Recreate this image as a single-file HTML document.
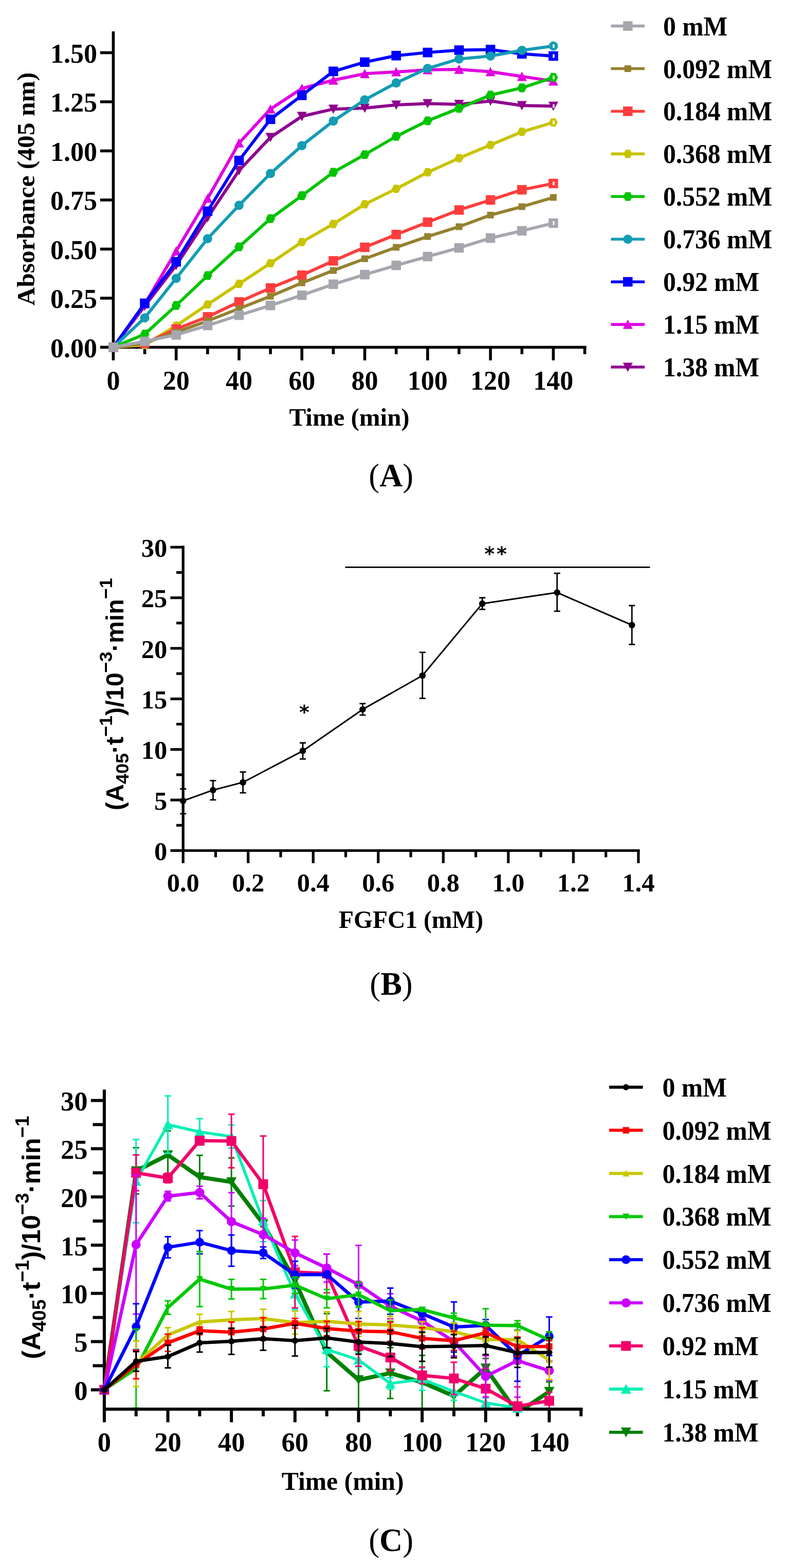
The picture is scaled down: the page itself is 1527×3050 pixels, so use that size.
<!DOCTYPE html>
<html><head><meta charset="utf-8"><title>Figure</title>
<style>html,body{margin:0;padding:0;background:#fff;}svg{display:block;}</style>
</head><body>
<svg width="1527" height="3050" viewBox="0 0 1527 3050">
<rect width="1527" height="3050" fill="#fff"/>
<g stroke="#000" stroke-width="5.6" fill="none">
<path d="M220.4 61 V701 M217.6 675.5 H1140.6"/>
<path d="M281.54 675.5 V689"/>
<path d="M342.68 675.5 V701"/>
<path d="M403.82 675.5 V689"/>
<path d="M464.96 675.5 V701"/>
<path d="M526.1 675.5 V689"/>
<path d="M587.24 675.5 V701"/>
<path d="M648.38 675.5 V689"/>
<path d="M709.52 675.5 V701"/>
<path d="M770.66 675.5 V689"/>
<path d="M831.8 675.5 V701"/>
<path d="M892.94 675.5 V689"/>
<path d="M954.08 675.5 V701"/>
<path d="M1015.22 675.5 V689"/>
<path d="M1076.36 675.5 V701"/>
<path d="M1137.5 675.5 V689"/>
<path d="M194.8 675.5 H220.4"/>
<path d="M194.8 580 H220.4"/>
<path d="M194.8 484.5 H220.4"/>
<path d="M194.8 389 H220.4"/>
<path d="M194.8 293.5 H220.4"/>
<path d="M194.8 198 H220.4"/>
<path d="M194.8 102.5 H220.4"/>
</g>
<polyline points="220.4,675.5 281.54,595.28 342.68,516.21 403.82,423.38 464.96,331.7 526.1,267.14 587.24,226.27 648.38,212.13 709.52,210.22 770.66,204.11 831.8,201.44 892.94,202.97 954.08,196.47 1015.22,205.26 1076.36,206.4" fill="none" stroke="#8E008E" stroke-width="6" stroke-linejoin="round"/>
<polygon points="220.4,684.89 229.9,666.84 210.9,666.84" fill="#8E008E"/>
<polygon points="281.54,604.67 291.04,586.62 272.04,586.62" fill="#8E008E"/>
<polygon points="342.68,525.59 352.18,507.54 333.18,507.54" fill="#8E008E"/>
<polygon points="403.82,432.77 413.32,414.72 394.32,414.72" fill="#8E008E"/>
<polygon points="464.96,341.09 474.46,323.04 455.46,323.04" fill="#8E008E"/>
<polygon points="526.1,276.53 535.6,258.48 516.6,258.48" fill="#8E008E"/>
<polygon points="587.24,235.65 596.74,217.6 577.74,217.6" fill="#8E008E"/>
<polygon points="648.38,221.52 657.88,203.47 638.88,203.47" fill="#8E008E"/>
<polygon points="709.52,219.61 719.02,201.56 700.02,201.56" fill="#8E008E"/>
<polygon points="770.66,213.5 780.16,195.45 761.16,195.45" fill="#8E008E"/>
<polygon points="831.8,210.82 841.3,192.77 822.3,192.77" fill="#8E008E"/>
<polygon points="892.94,212.35 902.44,194.3 883.44,194.3" fill="#8E008E"/>
<polygon points="954.08,205.86 963.58,187.81 944.58,187.81" fill="#8E008E"/>
<polygon points="1015.22,214.64 1024.72,196.59 1005.72,196.59" fill="#8E008E"/>
<polygon points="1076.36,215.79 1085.86,197.74 1066.86,197.74" fill="#8E008E"/><rect x="1075.16" y="202.9" width="3.5" height="7" fill="#fff"/>
<polyline points="220.4,675.5 281.54,591.46 342.68,488.32 403.82,385.94 464.96,278.22 526.1,212.13 587.24,172.02 648.38,155.98 709.52,143.37 770.66,139.94 831.8,135.73 892.94,134.97 954.08,139.55 1015.22,148.72 1076.36,157.89" fill="none" stroke="#E000E0" stroke-width="6" stroke-linejoin="round"/>
<polygon points="220.4,666.11 229.9,684.16 210.9,684.16" fill="#E000E0"/>
<polygon points="281.54,582.07 291.04,600.12 272.04,600.12" fill="#E000E0"/>
<polygon points="342.68,478.93 352.18,496.98 333.18,496.98" fill="#E000E0"/>
<polygon points="403.82,376.56 413.32,394.61 394.32,394.61" fill="#E000E0"/>
<polygon points="464.96,268.83 474.46,286.88 455.46,286.88" fill="#E000E0"/>
<polygon points="526.1,202.75 535.6,220.8 516.6,220.8" fill="#E000E0"/>
<polygon points="587.24,162.64 596.74,180.69 577.74,180.69" fill="#E000E0"/>
<polygon points="648.38,146.59 657.88,164.64 638.88,164.64" fill="#E000E0"/>
<polygon points="709.52,133.99 719.02,152.04 700.02,152.04" fill="#E000E0"/>
<polygon points="770.66,130.55 780.16,148.6 761.16,148.6" fill="#E000E0"/>
<polygon points="831.8,126.35 841.3,144.4 822.3,144.4" fill="#E000E0"/>
<polygon points="892.94,125.58 902.44,143.63 883.44,143.63" fill="#E000E0"/>
<polygon points="954.08,130.17 963.58,148.22 944.58,148.22" fill="#E000E0"/>
<polygon points="1015.22,139.34 1024.72,157.39 1005.72,157.39" fill="#E000E0"/>
<polygon points="1076.36,148.5 1085.86,166.55 1066.86,166.55" fill="#E000E0"/>
<polyline points="220.4,675.5 281.54,589.93 342.68,509.33 403.82,410.77 464.96,312.22 526.1,232 587.24,185.39 648.38,138.79 709.52,120.84 770.66,108.23 831.8,102.12 892.94,97.53 954.08,96.39 1015.22,104.79 1076.36,108.99" fill="none" stroke="#0000FF" stroke-width="6" stroke-linejoin="round"/>
<rect x="211.1" y="666.2" width="18.6" height="18.6" fill="#0000FF"/>
<rect x="272.24" y="580.63" width="18.6" height="18.6" fill="#0000FF"/>
<rect x="333.38" y="500.03" width="18.6" height="18.6" fill="#0000FF"/>
<rect x="394.52" y="401.47" width="18.6" height="18.6" fill="#0000FF"/>
<rect x="455.66" y="302.92" width="18.6" height="18.6" fill="#0000FF"/>
<rect x="516.8" y="222.7" width="18.6" height="18.6" fill="#0000FF"/>
<rect x="577.94" y="176.09" width="18.6" height="18.6" fill="#0000FF"/>
<rect x="639.08" y="129.49" width="18.6" height="18.6" fill="#0000FF"/>
<rect x="700.22" y="111.54" width="18.6" height="18.6" fill="#0000FF"/>
<rect x="761.36" y="98.93" width="18.6" height="18.6" fill="#0000FF"/>
<rect x="822.5" y="92.82" width="18.6" height="18.6" fill="#0000FF"/>
<rect x="883.64" y="88.23" width="18.6" height="18.6" fill="#0000FF"/>
<rect x="944.78" y="87.09" width="18.6" height="18.6" fill="#0000FF"/>
<rect x="1005.92" y="95.49" width="18.6" height="18.6" fill="#0000FF"/>
<rect x="1067.06" y="99.69" width="18.6" height="18.6" fill="#0000FF"/><rect x="1075.16" y="105.49" width="3.5" height="7" fill="#fff"/>
<polyline points="220.4,675.5 281.54,618.2 342.68,541.42 403.82,464.25 464.96,399.31 526.1,337.43 587.24,283.19 648.38,235.44 709.52,194.18 770.66,161.33 831.8,133.06 892.94,114.72 954.08,108.99 1015.22,97.92 1076.36,89.51" fill="none" stroke="#129DB3" stroke-width="6" stroke-linejoin="round"/>
<circle cx="220.4" cy="675.5" r="9" fill="#129DB3"/>
<circle cx="281.54" cy="618.2" r="9" fill="#129DB3"/>
<circle cx="342.68" cy="541.42" r="9" fill="#129DB3"/>
<circle cx="403.82" cy="464.25" r="9" fill="#129DB3"/>
<circle cx="464.96" cy="399.31" r="9" fill="#129DB3"/>
<circle cx="526.1" cy="337.43" r="9" fill="#129DB3"/>
<circle cx="587.24" cy="283.19" r="9" fill="#129DB3"/>
<circle cx="648.38" cy="235.44" r="9" fill="#129DB3"/>
<circle cx="709.52" cy="194.18" r="9" fill="#129DB3"/>
<circle cx="770.66" cy="161.33" r="9" fill="#129DB3"/>
<circle cx="831.8" cy="133.06" r="9" fill="#129DB3"/>
<circle cx="892.94" cy="114.72" r="9" fill="#129DB3"/>
<circle cx="954.08" cy="108.99" r="9" fill="#129DB3"/>
<circle cx="1015.22" cy="97.92" r="9" fill="#129DB3"/>
<circle cx="1076.36" cy="89.51" r="9" fill="#129DB3"/><rect x="1075.16" y="86.01" width="3.5" height="7" fill="#fff"/>
<polyline points="220.4,675.5 281.54,649.91 342.68,594.13 403.82,536.07 464.96,480.3 526.1,425.29 587.24,380.6 648.38,335.14 709.52,300.76 770.66,265.23 831.8,235.05 892.94,210.61 954.08,185.01 1015.22,170.88 1076.36,150.63" fill="none" stroke="#00C400" stroke-width="6" stroke-linejoin="round"/>
<polygon points="211.4,675.5 215.9,666.95 224.9,666.95 229.4,675.5 224.9,684.05 215.9,684.05" fill="#00C400"/>
<polygon points="272.54,649.91 277.04,641.36 286.04,641.36 290.54,649.91 286.04,658.46 277.04,658.46" fill="#00C400"/>
<polygon points="333.68,594.13 338.18,585.58 347.18,585.58 351.68,594.13 347.18,602.68 338.18,602.68" fill="#00C400"/>
<polygon points="394.82,536.07 399.32,527.52 408.32,527.52 412.82,536.07 408.32,544.62 399.32,544.62" fill="#00C400"/>
<polygon points="455.96,480.3 460.46,471.75 469.46,471.75 473.96,480.3 469.46,488.85 460.46,488.85" fill="#00C400"/>
<polygon points="517.1,425.29 521.6,416.74 530.6,416.74 535.1,425.29 530.6,433.84 521.6,433.84" fill="#00C400"/>
<polygon points="578.24,380.6 582.74,372.05 591.74,372.05 596.24,380.6 591.74,389.15 582.74,389.15" fill="#00C400"/>
<polygon points="639.38,335.14 643.88,326.59 652.88,326.59 657.38,335.14 652.88,343.69 643.88,343.69" fill="#00C400"/>
<polygon points="700.52,300.76 705.02,292.21 714.02,292.21 718.52,300.76 714.02,309.31 705.02,309.31" fill="#00C400"/>
<polygon points="761.66,265.23 766.16,256.68 775.16,256.68 779.66,265.23 775.16,273.78 766.16,273.78" fill="#00C400"/>
<polygon points="822.8,235.05 827.3,226.5 836.3,226.5 840.8,235.05 836.3,243.6 827.3,243.6" fill="#00C400"/>
<polygon points="883.94,210.61 888.44,202.06 897.44,202.06 901.94,210.61 897.44,219.16 888.44,219.16" fill="#00C400"/>
<polygon points="945.08,185.01 949.58,176.46 958.58,176.46 963.08,185.01 958.58,193.56 949.58,193.56" fill="#00C400"/>
<polygon points="1006.22,170.88 1010.72,162.33 1019.72,162.33 1024.22,170.88 1019.72,179.43 1010.72,179.43" fill="#00C400"/>
<polygon points="1067.36,150.63 1071.86,142.08 1080.86,142.08 1085.36,150.63 1080.86,159.18 1071.86,159.18" fill="#00C400"/><rect x="1075.16" y="147.13" width="3.5" height="7" fill="#fff"/>
<polyline points="220.4,675.5 281.54,670.92 342.68,633.48 403.82,592.22 464.96,552.11 526.1,512 587.24,470.75 648.38,435.6 709.52,397.4 770.66,367.23 831.8,335.14 892.94,307.63 954.08,282.04 1015.22,256.45 1076.36,238.11" fill="none" stroke="#C8C400" stroke-width="6" stroke-linejoin="round"/>
<polygon points="211.9,675.5 216.15,667.42 224.65,667.42 228.9,675.5 224.65,683.58 216.15,683.58" fill="#C8C400"/>
<polygon points="273.04,670.92 277.29,662.84 285.79,662.84 290.04,670.92 285.79,678.99 277.29,678.99" fill="#C8C400"/>
<polygon points="334.18,633.48 338.43,625.4 346.93,625.4 351.18,633.48 346.93,641.56 338.43,641.56" fill="#C8C400"/>
<polygon points="395.32,592.22 399.57,584.15 408.07,584.15 412.32,592.22 408.07,600.3 399.57,600.3" fill="#C8C400"/>
<polygon points="456.46,552.11 460.71,544.04 469.21,544.04 473.46,552.11 469.21,560.19 460.71,560.19" fill="#C8C400"/>
<polygon points="517.6,512 521.85,503.93 530.35,503.93 534.6,512 530.35,520.08 521.85,520.08" fill="#C8C400"/>
<polygon points="578.74,470.75 582.99,462.67 591.49,462.67 595.74,470.75 591.49,478.82 582.99,478.82" fill="#C8C400"/>
<polygon points="639.88,435.6 644.13,427.53 652.63,427.53 656.88,435.6 652.63,443.68 644.13,443.68" fill="#C8C400"/>
<polygon points="701.02,397.4 705.27,389.33 713.77,389.33 718.02,397.4 713.77,405.48 705.27,405.48" fill="#C8C400"/>
<polygon points="762.16,367.23 766.41,359.15 774.91,359.15 779.16,367.23 774.91,375.3 766.41,375.3" fill="#C8C400"/>
<polygon points="823.3,335.14 827.55,327.06 836.05,327.06 840.3,335.14 836.05,343.21 827.55,343.21" fill="#C8C400"/>
<polygon points="884.44,307.63 888.69,299.56 897.19,299.56 901.44,307.63 897.19,315.71 888.69,315.71" fill="#C8C400"/>
<polygon points="945.58,282.04 949.83,273.96 958.33,273.96 962.58,282.04 958.33,290.11 949.83,290.11" fill="#C8C400"/>
<polygon points="1006.72,256.45 1010.97,248.37 1019.47,248.37 1023.72,256.45 1019.47,264.52 1010.97,264.52" fill="#C8C400"/>
<polygon points="1067.86,238.11 1072.11,230.04 1080.61,230.04 1084.86,238.11 1080.61,246.19 1072.11,246.19" fill="#C8C400"/><rect x="1075.16" y="234.61" width="3.5" height="7" fill="#fff"/>
<polyline points="220.4,675.5 281.54,667.86 342.68,639.97 403.82,616.29 464.96,587.26 526.1,560.14 587.24,535.31 648.38,507.42 709.52,481.06 770.66,456.23 831.8,432.17 892.94,408.48 954.08,389 1015.22,369.14 1076.36,356.91" fill="none" stroke="#FF3D3D" stroke-width="6" stroke-linejoin="round"/>
<rect x="211.15" y="666.25" width="18.5" height="18.5" fill="#FF3D3D"/>
<rect x="272.29" y="658.61" width="18.5" height="18.5" fill="#FF3D3D"/>
<rect x="333.43" y="630.72" width="18.5" height="18.5" fill="#FF3D3D"/>
<rect x="394.57" y="607.04" width="18.5" height="18.5" fill="#FF3D3D"/>
<rect x="455.71" y="578.01" width="18.5" height="18.5" fill="#FF3D3D"/>
<rect x="516.85" y="550.89" width="18.5" height="18.5" fill="#FF3D3D"/>
<rect x="577.99" y="526.06" width="18.5" height="18.5" fill="#FF3D3D"/>
<rect x="639.13" y="498.17" width="18.5" height="18.5" fill="#FF3D3D"/>
<rect x="700.27" y="471.81" width="18.5" height="18.5" fill="#FF3D3D"/>
<rect x="761.41" y="446.98" width="18.5" height="18.5" fill="#FF3D3D"/>
<rect x="822.55" y="422.92" width="18.5" height="18.5" fill="#FF3D3D"/>
<rect x="883.69" y="399.23" width="18.5" height="18.5" fill="#FF3D3D"/>
<rect x="944.83" y="379.75" width="18.5" height="18.5" fill="#FF3D3D"/>
<rect x="1005.97" y="359.89" width="18.5" height="18.5" fill="#FF3D3D"/>
<rect x="1067.11" y="347.66" width="18.5" height="18.5" fill="#FF3D3D"/><rect x="1075.16" y="353.41" width="3.5" height="7" fill="#fff"/>
<polyline points="220.4,675.5 281.54,667.1 342.68,646.09 403.82,624.31 464.96,600.25 526.1,576.18 587.24,550.2 648.38,526.14 709.52,503.22 770.66,481.06 831.8,460.05 892.94,440.95 954.08,418.41 1015.22,401.99 1076.36,384.03" fill="none" stroke="#95812F" stroke-width="6" stroke-linejoin="round"/>
<rect x="213.9" y="669" width="13" height="13" fill="#95812F"/>
<rect x="275.04" y="660.6" width="13" height="13" fill="#95812F"/>
<rect x="336.18" y="639.59" width="13" height="13" fill="#95812F"/>
<rect x="397.32" y="617.81" width="13" height="13" fill="#95812F"/>
<rect x="458.46" y="593.75" width="13" height="13" fill="#95812F"/>
<rect x="519.6" y="569.68" width="13" height="13" fill="#95812F"/>
<rect x="580.74" y="543.7" width="13" height="13" fill="#95812F"/>
<rect x="641.88" y="519.64" width="13" height="13" fill="#95812F"/>
<rect x="703.02" y="496.72" width="13" height="13" fill="#95812F"/>
<rect x="764.16" y="474.56" width="13" height="13" fill="#95812F"/>
<rect x="825.3" y="453.55" width="13" height="13" fill="#95812F"/>
<rect x="886.44" y="434.45" width="13" height="13" fill="#95812F"/>
<rect x="947.58" y="411.91" width="13" height="13" fill="#95812F"/>
<rect x="1008.72" y="395.49" width="13" height="13" fill="#95812F"/>
<rect x="1069.86" y="377.53" width="13" height="13" fill="#95812F"/>
<polyline points="220.4,675.5 281.54,664.04 342.68,651.43 403.82,633.1 464.96,613.23 526.1,594.13 587.24,574.27 648.38,552.88 709.52,534.16 770.66,516.21 831.8,499.02 892.94,482.21 954.08,463.11 1015.22,448.97 1076.36,434.08" fill="none" stroke="#A6A6AE" stroke-width="6" stroke-linejoin="round"/>
<rect x="211.15" y="666.25" width="18.5" height="18.5" fill="#A6A6AE"/>
<rect x="272.29" y="654.79" width="18.5" height="18.5" fill="#A6A6AE"/>
<rect x="333.43" y="642.18" width="18.5" height="18.5" fill="#A6A6AE"/>
<rect x="394.57" y="623.85" width="18.5" height="18.5" fill="#A6A6AE"/>
<rect x="455.71" y="603.98" width="18.5" height="18.5" fill="#A6A6AE"/>
<rect x="516.85" y="584.88" width="18.5" height="18.5" fill="#A6A6AE"/>
<rect x="577.99" y="565.02" width="18.5" height="18.5" fill="#A6A6AE"/>
<rect x="639.13" y="543.63" width="18.5" height="18.5" fill="#A6A6AE"/>
<rect x="700.27" y="524.91" width="18.5" height="18.5" fill="#A6A6AE"/>
<rect x="761.41" y="506.96" width="18.5" height="18.5" fill="#A6A6AE"/>
<rect x="822.55" y="489.77" width="18.5" height="18.5" fill="#A6A6AE"/>
<rect x="883.69" y="472.96" width="18.5" height="18.5" fill="#A6A6AE"/>
<rect x="944.83" y="453.86" width="18.5" height="18.5" fill="#A6A6AE"/>
<rect x="1005.97" y="439.72" width="18.5" height="18.5" fill="#A6A6AE"/>
<rect x="1067.11" y="424.83" width="18.5" height="18.5" fill="#A6A6AE"/><rect x="1075.16" y="430.58" width="3.5" height="7" fill="#fff"/>
<text x="220.4" y="757.5" font-family="'Liberation Serif', 'Times New Roman', serif" font-size="52" font-weight="bold" text-anchor="middle">0</text>
<text x="342.68" y="757.5" font-family="'Liberation Serif', 'Times New Roman', serif" font-size="52" font-weight="bold" text-anchor="middle">20</text>
<text x="464.96" y="757.5" font-family="'Liberation Serif', 'Times New Roman', serif" font-size="52" font-weight="bold" text-anchor="middle">40</text>
<text x="587.24" y="757.5" font-family="'Liberation Serif', 'Times New Roman', serif" font-size="52" font-weight="bold" text-anchor="middle">60</text>
<text x="709.52" y="757.5" font-family="'Liberation Serif', 'Times New Roman', serif" font-size="52" font-weight="bold" text-anchor="middle">80</text>
<text x="831.8" y="757.5" font-family="'Liberation Serif', 'Times New Roman', serif" font-size="52" font-weight="bold" text-anchor="middle">100</text>
<text x="954.08" y="757.5" font-family="'Liberation Serif', 'Times New Roman', serif" font-size="52" font-weight="bold" text-anchor="middle">120</text>
<text x="1076.36" y="757.5" font-family="'Liberation Serif', 'Times New Roman', serif" font-size="52" font-weight="bold" text-anchor="middle">140</text>
<text x="189" y="694.5" font-family="'Liberation Serif', 'Times New Roman', serif" font-size="52" font-weight="bold" text-anchor="end">0.00</text>
<text x="189" y="599" font-family="'Liberation Serif', 'Times New Roman', serif" font-size="52" font-weight="bold" text-anchor="end">0.25</text>
<text x="189" y="503.5" font-family="'Liberation Serif', 'Times New Roman', serif" font-size="52" font-weight="bold" text-anchor="end">0.50</text>
<text x="189" y="408" font-family="'Liberation Serif', 'Times New Roman', serif" font-size="52" font-weight="bold" text-anchor="end">0.75</text>
<text x="189" y="312.5" font-family="'Liberation Serif', 'Times New Roman', serif" font-size="52" font-weight="bold" text-anchor="end">1.00</text>
<text x="189" y="217" font-family="'Liberation Serif', 'Times New Roman', serif" font-size="52" font-weight="bold" text-anchor="end">1.25</text>
<text x="189" y="121.5" font-family="'Liberation Serif', 'Times New Roman', serif" font-size="52" font-weight="bold" text-anchor="end">1.50</text>
<text x="679.6" y="827.6" font-family="'Liberation Serif', 'Times New Roman', serif" font-size="48.9" font-weight="bold" text-anchor="middle">Time (min)</text>
<text transform="translate(67.3 367.7) rotate(-90)" font-family="'Liberation Serif', 'Times New Roman', serif" font-size="49.5" font-weight="bold" text-anchor="middle">Absorbance (405 nm)</text>
<path d="M1188.4 50.6 H1254" stroke="#A6A6AE" stroke-width="5.6"/>
<rect x="1211.95" y="41.35" width="18.5" height="18.5" fill="#A6A6AE"/>
<text transform="translate(1290 68.6) scale(0.935 1)" font-family="'Liberation Serif', 'Times New Roman', serif" font-size="53" font-weight="bold">0 mM</text>
<path d="M1188.4 133.53 H1254" stroke="#95812F" stroke-width="5.6"/>
<rect x="1214.7" y="127.03" width="13" height="13" fill="#95812F"/>
<text transform="translate(1290 151.53) scale(0.935 1)" font-family="'Liberation Serif', 'Times New Roman', serif" font-size="53" font-weight="bold">0.092 mM</text>
<path d="M1188.4 216.46 H1254" stroke="#FF3D3D" stroke-width="5.6"/>
<rect x="1211.95" y="207.21" width="18.5" height="18.5" fill="#FF3D3D"/>
<text transform="translate(1290 234.46) scale(0.935 1)" font-family="'Liberation Serif', 'Times New Roman', serif" font-size="53" font-weight="bold">0.184 mM</text>
<path d="M1188.4 299.39 H1254" stroke="#C8C400" stroke-width="5.6"/>
<polygon points="1212.7,299.39 1216.95,291.32 1225.45,291.32 1229.7,299.39 1225.45,307.47 1216.95,307.47" fill="#C8C400"/>
<text transform="translate(1290 317.39) scale(0.935 1)" font-family="'Liberation Serif', 'Times New Roman', serif" font-size="53" font-weight="bold">0.368 mM</text>
<path d="M1188.4 382.32 H1254" stroke="#00C400" stroke-width="5.6"/>
<polygon points="1212.2,382.32 1216.7,373.77 1225.7,373.77 1230.2,382.32 1225.7,390.87 1216.7,390.87" fill="#00C400"/>
<text transform="translate(1290 400.32) scale(0.935 1)" font-family="'Liberation Serif', 'Times New Roman', serif" font-size="53" font-weight="bold">0.552 mM</text>
<path d="M1188.4 465.25 H1254" stroke="#129DB3" stroke-width="5.6"/>
<circle cx="1221.2" cy="465.25" r="9" fill="#129DB3"/>
<text transform="translate(1290 483.25) scale(0.935 1)" font-family="'Liberation Serif', 'Times New Roman', serif" font-size="53" font-weight="bold">0.736 mM</text>
<path d="M1188.4 548.18 H1254" stroke="#0000FF" stroke-width="5.6"/>
<rect x="1211.9" y="538.88" width="18.6" height="18.6" fill="#0000FF"/>
<text transform="translate(1290 566.18) scale(0.935 1)" font-family="'Liberation Serif', 'Times New Roman', serif" font-size="53" font-weight="bold">0.92 mM</text>
<path d="M1188.4 631.11 H1254" stroke="#E000E0" stroke-width="5.6"/>
<polygon points="1221.2,621.72 1230.7,639.77 1211.7,639.77" fill="#E000E0"/>
<text transform="translate(1290 649.11) scale(0.935 1)" font-family="'Liberation Serif', 'Times New Roman', serif" font-size="53" font-weight="bold">1.15 mM</text>
<path d="M1188.4 714.04 H1254" stroke="#8E008E" stroke-width="5.6"/>
<polygon points="1221.2,723.43 1230.7,705.38 1211.7,705.38" fill="#8E008E"/>
<text transform="translate(1290 732.04) scale(0.935 1)" font-family="'Liberation Serif', 'Times New Roman', serif" font-size="53" font-weight="bold">1.38 mM</text>
<text x="760.7" y="945.9" font-family="'Liberation Serif', 'Times New Roman', serif" font-size="62.5" text-anchor="middle">(<tspan font-weight="bold">A</tspan>)</text>
<g stroke="#000" stroke-width="5.2" fill="none">
<path d="M356.2 1061.5 V1679 M353.5 1654.5 H1244.5"/>
<path d="M419.46 1654.5 V1667.5"/>
<path d="M482.72 1654.5 V1679"/>
<path d="M545.98 1654.5 V1667.5"/>
<path d="M609.24 1654.5 V1679"/>
<path d="M672.5 1654.5 V1667.5"/>
<path d="M735.76 1654.5 V1679"/>
<path d="M799.02 1654.5 V1667.5"/>
<path d="M862.28 1654.5 V1679"/>
<path d="M925.54 1654.5 V1667.5"/>
<path d="M988.8 1654.5 V1679"/>
<path d="M1052.06 1654.5 V1667.5"/>
<path d="M1115.32 1654.5 V1679"/>
<path d="M1178.58 1654.5 V1667.5"/>
<path d="M1241.84 1654.5 V1679"/>
<path d="M331.4 1654.5 H356.2"/>
<path d="M343 1605.33 H356.2"/>
<path d="M331.4 1556.15 H356.2"/>
<path d="M343 1506.97 H356.2"/>
<path d="M331.4 1457.8 H356.2"/>
<path d="M343 1408.62 H356.2"/>
<path d="M331.4 1359.45 H356.2"/>
<path d="M343 1310.28 H356.2"/>
<path d="M331.4 1261.1 H356.2"/>
<path d="M343 1211.92 H356.2"/>
<path d="M331.4 1162.75 H356.2"/>
<path d="M343 1113.57 H356.2"/>
<path d="M331.4 1064.4 H356.2"/>
</g>
<polyline points="356.2,1557.72 414.4,1536.87 472.6,1521.73 589,1460.55 705.4,1379.91 821.79,1314.01 938.19,1174.16 1083.69,1152.52 1229.19,1215.86" fill="none" stroke="#000" stroke-width="3" stroke-linejoin="round"/>
<g stroke="#000" stroke-width="2.8" fill="none">
<path d="M356.2 1534.51 V1582.9 M350.2 1534.51 H362.2 M350.2 1582.9 H362.2"/>
<path d="M414.4 1518.38 V1555.95 M408.4 1518.38 H420.4 M408.4 1555.95 H420.4"/>
<path d="M472.6 1501.66 V1542.18 M466.6 1501.66 H478.6 M466.6 1542.18 H478.6"/>
<path d="M589 1445.01 V1476.29 M583 1445.01 H595 M583 1476.29 H595"/>
<path d="M705.4 1368.69 V1390.92 M699.4 1368.69 H711.4 M699.4 1390.92 H711.4"/>
<path d="M821.79 1268.97 V1358.47 M815.79 1268.97 H827.79 M815.79 1358.47 H827.79"/>
<path d="M938.19 1162.75 V1185.37 M932.19 1162.75 H944.19 M932.19 1185.37 H944.19"/>
<path d="M1083.69 1115.15 V1188.91 M1077.69 1115.15 H1089.69 M1077.69 1188.91 H1089.69"/>
<path d="M1229.19 1177.9 V1253.63 M1223.19 1177.9 H1235.19 M1223.19 1253.63 H1235.19"/>
</g>
<circle cx="356.2" cy="1557.72" r="6.3" fill="#000"/>
<circle cx="414.4" cy="1536.87" r="6.3" fill="#000"/>
<circle cx="472.6" cy="1521.73" r="6.3" fill="#000"/>
<circle cx="589" cy="1460.55" r="6.3" fill="#000"/>
<circle cx="705.4" cy="1379.91" r="6.3" fill="#000"/>
<circle cx="821.79" cy="1314.01" r="6.3" fill="#000"/>
<circle cx="938.19" cy="1174.16" r="6.3" fill="#000"/>
<circle cx="1083.69" cy="1152.52" r="6.3" fill="#000"/>
<circle cx="1229.19" cy="1215.86" r="6.3" fill="#000"/>
<path d="M671.4 1103.4 H1264.4" stroke="#000" stroke-width="2.8"/>
<text x="952.2" y="1090.1" font-family="'DejaVu Sans', sans-serif" font-size="38" font-weight="bold" text-anchor="middle">*</text>
<text x="975.9" y="1090.1" font-family="'DejaVu Sans', sans-serif" font-size="38" font-weight="bold" text-anchor="middle">*</text>
<text x="591.9" y="1398.3" font-family="'DejaVu Sans', sans-serif" font-size="38" font-weight="bold" text-anchor="middle">*</text>
<text x="356.2" y="1734" font-family="'Liberation Serif', 'Times New Roman', serif" font-size="50.5" font-weight="bold" text-anchor="middle">0.0</text>
<text x="482.72" y="1734" font-family="'Liberation Serif', 'Times New Roman', serif" font-size="50.5" font-weight="bold" text-anchor="middle">0.2</text>
<text x="609.24" y="1734" font-family="'Liberation Serif', 'Times New Roman', serif" font-size="50.5" font-weight="bold" text-anchor="middle">0.4</text>
<text x="735.76" y="1734" font-family="'Liberation Serif', 'Times New Roman', serif" font-size="50.5" font-weight="bold" text-anchor="middle">0.6</text>
<text x="862.28" y="1734" font-family="'Liberation Serif', 'Times New Roman', serif" font-size="50.5" font-weight="bold" text-anchor="middle">0.8</text>
<text x="988.8" y="1734" font-family="'Liberation Serif', 'Times New Roman', serif" font-size="50.5" font-weight="bold" text-anchor="middle">1.0</text>
<text x="1115.32" y="1734" font-family="'Liberation Serif', 'Times New Roman', serif" font-size="50.5" font-weight="bold" text-anchor="middle">1.2</text>
<text x="1241.84" y="1734" font-family="'Liberation Serif', 'Times New Roman', serif" font-size="50.5" font-weight="bold" text-anchor="middle">1.4</text>
<text x="325.3" y="1673.1" font-family="'Liberation Serif', 'Times New Roman', serif" font-size="50.5" font-weight="bold" text-anchor="end">0</text>
<text x="325.3" y="1574.75" font-family="'Liberation Serif', 'Times New Roman', serif" font-size="50.5" font-weight="bold" text-anchor="end">5</text>
<text x="325.3" y="1476.4" font-family="'Liberation Serif', 'Times New Roman', serif" font-size="50.5" font-weight="bold" text-anchor="end">10</text>
<text x="325.3" y="1378.05" font-family="'Liberation Serif', 'Times New Roman', serif" font-size="50.5" font-weight="bold" text-anchor="end">15</text>
<text x="325.3" y="1279.7" font-family="'Liberation Serif', 'Times New Roman', serif" font-size="50.5" font-weight="bold" text-anchor="end">20</text>
<text x="325.3" y="1181.35" font-family="'Liberation Serif', 'Times New Roman', serif" font-size="50.5" font-weight="bold" text-anchor="end">25</text>
<text x="325.3" y="1083" font-family="'Liberation Serif', 'Times New Roman', serif" font-size="50.5" font-weight="bold" text-anchor="end">30</text>
<text x="799.5" y="1805.1" font-family="'Liberation Serif', 'Times New Roman', serif" font-size="47.5" font-weight="bold" text-anchor="middle">FGFC1 (mM)</text>
<text transform="translate(239.6 1350.2) rotate(-90)" font-family="'Liberation Sans', Arial, sans-serif" font-size="48.5" font-weight="bold" text-anchor="middle">(A<tspan font-size="35.89" dy="10.67">405</tspan><tspan dy="-10.67">&#183;t</tspan><tspan font-size="35.89" dy="-21.34">&#8722;1</tspan><tspan dy="21.34">)/10</tspan><tspan font-size="35.89" dy="-21.34">&#8722;3</tspan><tspan dy="21.34">&#183;min</tspan><tspan font-size="35.89" dy="-21.34">&#8722;1</tspan></text>
<text x="761" y="1934.9" font-family="'Liberation Serif', 'Times New Roman', serif" font-size="62.5" text-anchor="middle">(<tspan font-weight="bold">B</tspan>)</text>
<g stroke="#000" stroke-width="6" fill="none">
<path d="M202.9 2119.5 V2766.5 M199.9 2741 H1133.5"/>
<path d="M264.72 2741 V2755"/>
<path d="M326.54 2741 V2766.5"/>
<path d="M388.36 2741 V2755"/>
<path d="M450.18 2741 V2766.5"/>
<path d="M512 2741 V2755"/>
<path d="M573.82 2741 V2766.5"/>
<path d="M635.64 2741 V2755"/>
<path d="M697.46 2741 V2766.5"/>
<path d="M759.28 2741 V2755"/>
<path d="M821.1 2741 V2766.5"/>
<path d="M882.92 2741 V2755"/>
<path d="M944.74 2741 V2766.5"/>
<path d="M1006.56 2741 V2755"/>
<path d="M1068.38 2741 V2766.5"/>
<path d="M1130.2 2741 V2755"/>
<path d="M176.8 2703.4 H202.9"/>
<path d="M180.5 2656.5 H202.9"/>
<path d="M176.8 2609.6 H202.9"/>
<path d="M180.5 2562.7 H202.9"/>
<path d="M176.8 2515.8 H202.9"/>
<path d="M180.5 2468.9 H202.9"/>
<path d="M176.8 2422 H202.9"/>
<path d="M180.5 2375.1 H202.9"/>
<path d="M176.8 2328.2 H202.9"/>
<path d="M180.5 2281.3 H202.9"/>
<path d="M176.8 2234.4 H202.9"/>
<path d="M180.5 2187.5 H202.9"/>
<path d="M176.8 2140.6 H202.9"/>
</g>
<defs><clipPath id="clipC"><rect x="150" y="2080" width="1000" height="658"/></clipPath></defs>
<g clip-path="url(#clipC)">
<polyline points="202.9,2703.4 264.72,2277.55 326.54,2246.59 388.36,2289.55 450.18,2299.12 512,2380.73 573.82,2491.41 635.64,2630.24 697.46,2684.08 759.28,2670.95 821.1,2688.95 882.92,2715.59 944.74,2661.38 1006.56,2748.42 1068.38,2706.78" fill="none" stroke="#008000" stroke-width="8" stroke-linejoin="round"/>
<path d="M264.72 2232.52 V2322.57 M258.52 2232.52 H270.92 M258.52 2322.57 H270.92 M326.54 2199.69 V2293.49 M320.34 2199.69 H332.74 M320.34 2293.49 H332.74 M388.36 2247.34 V2331.76 M382.16 2247.34 H394.56 M382.16 2331.76 H394.56 M450.18 2252.22 V2346.02 M443.98 2252.22 H456.38 M443.98 2346.02 H456.38 M512 2375.1 V2386.36 M505.8 2375.1 H518.2 M505.8 2386.36 H518.2 M573.82 2483.91 V2498.92 M567.62 2483.91 H580.02 M567.62 2498.92 H580.02 M635.64 2555.2 V2705.28 M629.44 2555.2 H641.84 M629.44 2705.28 H641.84 M697.46 2627.8 V2740.36 M691.26 2627.8 H703.66 M691.26 2740.36 H703.66 M759.28 2621.61 V2720.28 M753.08 2621.61 H765.48 M753.08 2720.28 H765.48 M821.1 2636.43 V2741.48 M814.9 2636.43 H827.3 M814.9 2741.48 H827.3 M882.92 2687.45 V2743.73 M876.72 2687.45 H889.12 M876.72 2743.73 H889.12 M944.74 2642.62 V2680.14 M938.54 2642.62 H950.94 M938.54 2680.14 H950.94 M1006.56 2739.04 V2757.8 M1000.36 2739.04 H1012.76 M1000.36 2757.8 H1012.76 M1068.38 2688.02 V2725.54 M1062.18 2688.02 H1074.58 M1062.18 2725.54 H1074.58" stroke="#008000" stroke-width="3" fill="none"/>
</g>
<polygon points="202.9,2713.28 212.9,2694.28 192.9,2694.28" fill="#008000"/>
<polygon points="264.72,2287.43 274.72,2268.43 254.72,2268.43" fill="#008000"/>
<polygon points="326.54,2256.47 336.54,2237.47 316.54,2237.47" fill="#008000"/>
<polygon points="388.36,2299.43 398.36,2280.43 378.36,2280.43" fill="#008000"/>
<polygon points="450.18,2309 460.18,2290 440.18,2290" fill="#008000"/>
<polygon points="512,2390.61 522,2371.61 502,2371.61" fill="#008000"/>
<polygon points="573.82,2501.29 583.82,2482.29 563.82,2482.29" fill="#008000"/>
<polygon points="635.64,2640.12 645.64,2621.12 625.64,2621.12" fill="#008000"/>
<polygon points="697.46,2693.96 707.46,2674.96 687.46,2674.96" fill="#008000"/>
<polygon points="759.28,2680.83 769.28,2661.83 749.28,2661.83" fill="#008000"/>
<polygon points="821.1,2698.83 831.1,2679.83 811.1,2679.83" fill="#008000"/>
<polygon points="882.92,2725.47 892.92,2706.47 872.92,2706.47" fill="#008000"/>
<polygon points="944.74,2671.26 954.74,2652.26 934.74,2652.26" fill="#008000"/>
<polygon points="1068.38,2716.66 1078.38,2697.66 1058.38,2697.66" fill="#008000"/>
<g clip-path="url(#clipC)">
<polyline points="202.9,2703.4 264.72,2297.43 326.54,2187.5 388.36,2201.76 450.18,2210.76 512,2375.29 573.82,2516.74 635.64,2624.61 697.46,2645.24 759.28,2691.02 821.1,2682.76 882.92,2706.78 944.74,2728.73 1006.56,2738.67 1068.38,2752.18" fill="none" stroke="#00F0B4" stroke-width="5.5" stroke-linejoin="round"/>
<path d="M264.72 2216.39 V2378.48 M258.52 2216.39 H270.92 M258.52 2378.48 H270.92 M326.54 2131.78 V2243.22 M320.34 2131.78 H332.74 M320.34 2243.22 H332.74 M388.36 2176.06 V2227.46 M382.16 2176.06 H394.56 M382.16 2227.46 H394.56 M450.18 2188.25 V2233.27 M443.98 2188.25 H456.38 M443.98 2233.27 H456.38 M512 2335.33 V2415.25 M505.8 2335.33 H518.2 M505.8 2415.25 H518.2 M573.82 2486.35 V2547.13 M567.62 2486.35 H580.02 M567.62 2547.13 H580.02 M635.64 2590.84 V2658.38 M629.44 2590.84 H641.84 M629.44 2658.38 H641.84 M697.46 2632.11 V2658.38 M691.26 2632.11 H703.66 M691.26 2658.38 H703.66 M759.28 2679.76 V2702.27 M753.08 2679.76 H765.48 M753.08 2702.27 H765.48 M821.1 2661.19 V2704.34 M814.9 2661.19 H827.3 M814.9 2704.34 H827.3 M882.92 2689.52 V2724.04 M876.72 2689.52 H889.12 M876.72 2724.04 H889.12 M944.74 2719.35 V2738.11 M938.54 2719.35 H950.94 M938.54 2738.11 H950.94 M1006.56 2733.04 V2744.3 M1000.36 2733.04 H1012.76 M1000.36 2744.3 H1012.76 M1068.38 2746.55 V2757.8 M1062.18 2746.55 H1074.58 M1062.18 2757.8 H1074.58" stroke="#00F0B4" stroke-width="3" fill="none"/>
</g>
<polygon points="202.9,2693.52 212.9,2712.52 192.9,2712.52" fill="#00F0B4"/>
<polygon points="264.72,2287.55 274.72,2306.55 254.72,2306.55" fill="#00F0B4"/>
<polygon points="326.54,2177.62 336.54,2196.62 316.54,2196.62" fill="#00F0B4"/>
<polygon points="388.36,2191.88 398.36,2210.88 378.36,2210.88" fill="#00F0B4"/>
<polygon points="450.18,2200.88 460.18,2219.88 440.18,2219.88" fill="#00F0B4"/>
<polygon points="512,2365.41 522,2384.41 502,2384.41" fill="#00F0B4"/>
<polygon points="573.82,2506.86 583.82,2525.86 563.82,2525.86" fill="#00F0B4"/>
<polygon points="635.64,2614.73 645.64,2633.73 625.64,2633.73" fill="#00F0B4"/>
<polygon points="697.46,2635.36 707.46,2654.36 687.46,2654.36" fill="#00F0B4"/>
<polygon points="759.28,2681.14 769.28,2700.14 749.28,2700.14" fill="#00F0B4"/>
<polygon points="821.1,2672.88 831.1,2691.88 811.1,2691.88" fill="#00F0B4"/>
<polygon points="882.92,2696.9 892.92,2715.9 872.92,2715.9" fill="#00F0B4"/>
<polygon points="944.74,2718.85 954.74,2737.85 934.74,2737.85" fill="#00F0B4"/>
<polygon points="1006.56,2728.79 1016.56,2747.79 996.56,2747.79" fill="#00F0B4"/>
<g clip-path="url(#clipC)">
<polyline points="202.9,2703.4 264.72,2281.3 326.54,2291.43 388.36,2218.83 450.18,2219.39 512,2303.44 573.82,2474.53 635.64,2476.97 697.46,2618.04 759.28,2640.55 821.1,2675.26 882.92,2681.26 944.74,2701.15 1006.56,2735.29 1068.38,2724.79" fill="none" stroke="#F2006A" stroke-width="6.5" stroke-linejoin="round"/>
<path d="M264.72 2246.59 V2316.01 M258.52 2246.59 H270.92 M258.52 2316.01 H270.92 M326.54 2282.05 V2300.81 M320.34 2282.05 H332.74 M320.34 2300.81 H332.74 M388.36 2211.33 V2226.33 M382.16 2211.33 H394.56 M382.16 2226.33 H394.56 M450.18 2167.24 V2271.54 M443.98 2167.24 H456.38 M443.98 2271.54 H456.38 M512 2209.64 V2397.24 M505.8 2209.64 H518.2 M505.8 2397.24 H518.2 M573.82 2405.12 V2543.94 M567.62 2405.12 H580.02 M567.62 2543.94 H580.02 M635.64 2439.45 V2514.49 M629.44 2439.45 H641.84 M629.44 2514.49 H641.84 M697.46 2578.65 V2657.44 M691.26 2578.65 H703.66 M691.26 2657.44 H703.66 M759.28 2615.04 V2666.07 M753.08 2615.04 H765.48 M753.08 2666.07 H765.48 M821.1 2658.94 V2691.58 M814.9 2658.94 H827.3 M814.9 2691.58 H827.3 M882.92 2649.75 V2712.78 M876.72 2649.75 H889.12 M876.72 2712.78 H889.12 M944.74 2661.75 V2740.54 M938.54 2661.75 H950.94 M938.54 2740.54 H950.94 M1006.56 2697.77 V2772.81 M1000.36 2697.77 H1012.76 M1000.36 2772.81 H1012.76 M1068.38 2707.9 V2741.67 M1062.18 2707.9 H1074.58 M1062.18 2741.67 H1074.58" stroke="#F2006A" stroke-width="3" fill="none"/>
</g>
<rect x="193.4" y="2693.9" width="19" height="19" fill="#F2006A"/>
<rect x="255.22" y="2271.8" width="19" height="19" fill="#F2006A"/>
<rect x="317.04" y="2281.93" width="19" height="19" fill="#F2006A"/>
<rect x="378.86" y="2209.33" width="19" height="19" fill="#F2006A"/>
<rect x="440.68" y="2209.89" width="19" height="19" fill="#F2006A"/>
<rect x="502.5" y="2293.94" width="19" height="19" fill="#F2006A"/>
<rect x="564.32" y="2465.03" width="19" height="19" fill="#F2006A"/>
<rect x="626.14" y="2467.47" width="19" height="19" fill="#F2006A"/>
<rect x="687.96" y="2608.54" width="19" height="19" fill="#F2006A"/>
<rect x="749.78" y="2631.05" width="19" height="19" fill="#F2006A"/>
<rect x="811.6" y="2665.76" width="19" height="19" fill="#F2006A"/>
<rect x="873.42" y="2671.76" width="19" height="19" fill="#F2006A"/>
<rect x="935.24" y="2691.65" width="19" height="19" fill="#F2006A"/>
<rect x="997.06" y="2725.79" width="19" height="19" fill="#F2006A"/>
<rect x="1058.88" y="2715.29" width="19" height="19" fill="#F2006A"/>
<g clip-path="url(#clipC)">
<polyline points="202.9,2703.4 264.72,2420.87 326.54,2326.7 388.36,2319.57 450.18,2376.23 512,2401.55 573.82,2437.01 635.64,2466.46 697.46,2498.92 759.28,2540.94 821.1,2569.45 882.92,2609.6 944.74,2677.14 1006.56,2646.56 1068.38,2666.26" fill="none" stroke="#CC00FF" stroke-width="6.5" stroke-linejoin="round"/>
<path d="M264.72 2285.8 V2555.95 M258.52 2285.8 H270.92 M258.52 2555.95 H270.92 M326.54 2317.32 V2336.08 M320.34 2317.32 H332.74 M320.34 2336.08 H332.74 M388.36 2307.38 V2331.76 M382.16 2307.38 H394.56 M382.16 2331.76 H394.56 M450.18 2319.95 V2432.51 M443.98 2319.95 H456.38 M443.98 2432.51 H456.38 M512 2369.66 V2433.44 M505.8 2369.66 H518.2 M505.8 2433.44 H518.2 M573.82 2412.06 V2461.96 M567.62 2412.06 H580.02 M567.62 2461.96 H580.02 M635.64 2439.26 V2493.66 M629.44 2439.26 H641.84 M629.44 2493.66 H641.84 M697.46 2422.38 V2575.46 M691.26 2422.38 H703.66 M691.26 2575.46 H703.66 M759.28 2516.55 V2565.33 M753.08 2516.55 H765.48 M753.08 2565.33 H765.48 M821.1 2558.2 V2580.71 M814.9 2558.2 H827.3 M814.9 2580.71 H827.3 M882.92 2581.46 V2637.74 M876.72 2581.46 H889.12 M876.72 2637.74 H889.12 M944.74 2636.99 V2717.28 M938.54 2636.99 H950.94 M938.54 2717.28 H950.94 M1006.56 2575.27 V2717.85 M1000.36 2575.27 H1012.76 M1000.36 2717.85 H1012.76 M1068.38 2647.5 V2685.02 M1062.18 2647.5 H1074.58 M1062.18 2685.02 H1074.58" stroke="#CC00FF" stroke-width="3" fill="none"/>
</g>
<circle cx="202.9" cy="2703.4" r="9" fill="#CC00FF"/>
<circle cx="264.72" cy="2420.87" r="9" fill="#CC00FF"/>
<circle cx="326.54" cy="2326.7" r="9" fill="#CC00FF"/>
<circle cx="388.36" cy="2319.57" r="9" fill="#CC00FF"/>
<circle cx="450.18" cy="2376.23" r="9" fill="#CC00FF"/>
<circle cx="512" cy="2401.55" r="9" fill="#CC00FF"/>
<circle cx="573.82" cy="2437.01" r="9" fill="#CC00FF"/>
<circle cx="635.64" cy="2466.46" r="9" fill="#CC00FF"/>
<circle cx="697.46" cy="2498.92" r="9" fill="#CC00FF"/>
<circle cx="759.28" cy="2540.94" r="9" fill="#CC00FF"/>
<circle cx="821.1" cy="2569.45" r="9" fill="#CC00FF"/>
<circle cx="882.92" cy="2609.6" r="9" fill="#CC00FF"/>
<circle cx="944.74" cy="2677.14" r="9" fill="#CC00FF"/>
<circle cx="1006.56" cy="2646.56" r="9" fill="#CC00FF"/>
<circle cx="1068.38" cy="2666.26" r="9" fill="#CC00FF"/>
<g clip-path="url(#clipC)">
<polyline points="202.9,2703.4 264.72,2580.71 326.54,2426.13 388.36,2416.37 450.18,2432.69 512,2436.82 573.82,2479.59 635.64,2479.03 697.46,2532.68 759.28,2530.81 821.1,2555.2 882.92,2581.27 944.74,2578.08 1006.56,2636.99 1068.38,2599.28" fill="none" stroke="#0000FF" stroke-width="6.5" stroke-linejoin="round"/>
<path d="M264.72 2536.06 V2625.36 M258.52 2536.06 H270.92 M258.52 2625.36 H270.92 M326.54 2405.49 V2446.76 M320.34 2405.49 H332.74 M320.34 2446.76 H332.74 M388.36 2393.86 V2438.88 M382.16 2393.86 H394.56 M382.16 2438.88 H394.56 M450.18 2402.3 V2463.08 M443.98 2402.3 H456.38 M443.98 2463.08 H456.38 M512 2425.56 V2448.08 M505.8 2425.56 H518.2 M505.8 2448.08 H518.2 M573.82 2453.33 V2505.86 M567.62 2453.33 H580.02 M567.62 2505.86 H580.02 M635.64 2473.4 V2484.66 M629.44 2473.4 H641.84 M629.44 2484.66 H641.84 M697.46 2500.79 V2564.58 M691.26 2500.79 H703.66 M691.26 2564.58 H703.66 M759.28 2505.48 V2556.13 M753.08 2505.48 H765.48 M753.08 2556.13 H765.48 M821.1 2543.94 V2566.45 M814.9 2543.94 H827.3 M814.9 2566.45 H827.3 M882.92 2532.5 V2630.05 M876.72 2532.5 H889.12 M876.72 2630.05 H889.12 M944.74 2566.83 V2589.34 M938.54 2566.83 H950.94 M938.54 2589.34 H950.94 M1006.56 2587.28 V2686.7 M1000.36 2587.28 H1012.76 M1000.36 2686.7 H1012.76 M1068.38 2561.76 V2636.8 M1062.18 2561.76 H1074.58 M1062.18 2636.8 H1074.58" stroke="#0000FF" stroke-width="3" fill="none"/>
</g>
<circle cx="202.9" cy="2703.4" r="8.5" fill="#0000FF"/>
<circle cx="264.72" cy="2580.71" r="8.5" fill="#0000FF"/>
<circle cx="326.54" cy="2426.13" r="8.5" fill="#0000FF"/>
<circle cx="388.36" cy="2416.37" r="8.5" fill="#0000FF"/>
<circle cx="450.18" cy="2432.69" r="8.5" fill="#0000FF"/>
<circle cx="512" cy="2436.82" r="8.5" fill="#0000FF"/>
<circle cx="573.82" cy="2479.59" r="8.5" fill="#0000FF"/>
<circle cx="635.64" cy="2479.03" r="8.5" fill="#0000FF"/>
<circle cx="697.46" cy="2532.68" r="8.5" fill="#0000FF"/>
<circle cx="759.28" cy="2530.81" r="8.5" fill="#0000FF"/>
<circle cx="821.1" cy="2555.2" r="8.5" fill="#0000FF"/>
<circle cx="882.92" cy="2581.27" r="8.5" fill="#0000FF"/>
<circle cx="944.74" cy="2578.08" r="8.5" fill="#0000FF"/>
<circle cx="1006.56" cy="2636.99" r="8.5" fill="#0000FF"/>
<circle cx="1068.38" cy="2599.28" r="8.5" fill="#0000FF"/>
<g clip-path="url(#clipC)">
<polyline points="202.9,2703.4 264.72,2662.13 326.54,2543.38 388.36,2488.04 450.18,2507.55 512,2507.36 573.82,2499.85 635.64,2526.12 697.46,2518.43 759.28,2549.38 821.1,2547.32 882.92,2563.64 944.74,2577.71 1006.56,2578.46 1068.38,2606.41" fill="none" stroke="#00C800" stroke-width="6.5" stroke-linejoin="round"/>
<path d="M264.72 2585.21 V2739.04 M258.52 2585.21 H270.92 M258.52 2739.04 H270.92 M326.54 2530.25 V2556.51 M320.34 2530.25 H332.74 M320.34 2556.51 H332.74 M388.36 2434.57 V2541.5 M382.16 2434.57 H394.56 M382.16 2541.5 H394.56 M450.18 2488.41 V2526.68 M443.98 2488.41 H456.38 M443.98 2526.68 H456.38 M512 2488.6 V2526.12 M505.8 2488.6 H518.2 M505.8 2526.12 H518.2 M573.82 2483.91 V2515.8 M567.62 2483.91 H580.02 M567.62 2515.8 H580.02 M635.64 2508.3 V2543.94 M629.44 2508.3 H641.84 M629.44 2543.94 H641.84 M697.46 2494.04 V2542.81 M691.26 2494.04 H703.66 M691.26 2542.81 H703.66 M759.28 2528.74 V2570.02 M753.08 2528.74 H765.48 M753.08 2570.02 H765.48 M821.1 2543.56 V2551.07 M814.9 2543.56 H827.3 M814.9 2551.07 H827.3 M882.92 2554.26 V2573.02 M876.72 2554.26 H889.12 M876.72 2573.02 H889.12 M944.74 2545.82 V2609.6 M938.54 2545.82 H950.94 M938.54 2609.6 H950.94 M1006.56 2569.08 V2587.84 M1000.36 2569.08 H1012.76 M1000.36 2587.84 H1012.76 M1068.38 2590.46 V2622.36 M1062.18 2590.46 H1074.58 M1062.18 2622.36 H1074.58" stroke="#00C800" stroke-width="3" fill="none"/>
</g>
<polygon points="202.9,2709.82 209.4,2697.47 196.4,2697.47" fill="#00C800"/>
<polygon points="264.72,2668.55 271.22,2656.2 258.22,2656.2" fill="#00C800"/>
<polygon points="326.54,2549.8 333.04,2537.45 320.04,2537.45" fill="#00C800"/>
<polygon points="388.36,2494.46 394.86,2482.11 381.86,2482.11" fill="#00C800"/>
<polygon points="450.18,2513.97 456.68,2501.62 443.68,2501.62" fill="#00C800"/>
<polygon points="512,2513.78 518.5,2501.43 505.5,2501.43" fill="#00C800"/>
<polygon points="573.82,2506.28 580.32,2493.93 567.32,2493.93" fill="#00C800"/>
<polygon points="635.64,2532.54 642.14,2520.19 629.14,2520.19" fill="#00C800"/>
<polygon points="697.46,2524.85 703.96,2512.5 690.96,2512.5" fill="#00C800"/>
<polygon points="759.28,2555.8 765.78,2543.45 752.78,2543.45" fill="#00C800"/>
<polygon points="821.1,2553.74 827.6,2541.39 814.6,2541.39" fill="#00C800"/>
<polygon points="882.92,2570.06 889.42,2557.71 876.42,2557.71" fill="#00C800"/>
<polygon points="944.74,2584.13 951.24,2571.78 938.24,2571.78" fill="#00C800"/>
<polygon points="1006.56,2584.88 1013.06,2572.53 1000.06,2572.53" fill="#00C800"/>
<polygon points="1068.38,2612.83 1074.88,2600.48 1061.88,2600.48" fill="#00C800"/>
<g clip-path="url(#clipC)">
<polyline points="202.9,2703.4 264.72,2652.75 326.54,2596.66 388.36,2571.52 450.18,2567.2 512,2564.76 573.82,2572.83 635.64,2570.2 697.46,2575.27 759.28,2577.33 821.1,2582.21 882.92,2590.46 944.74,2605.66 1006.56,2605.66 1068.38,2645.62" fill="none" stroke="#C8C800" stroke-width="6.5" stroke-linejoin="round"/>
<path d="M264.72 2608.47 V2697.02 M258.52 2608.47 H270.92 M258.52 2697.02 H270.92 M326.54 2582.59 V2610.73 M320.34 2582.59 H332.74 M320.34 2610.73 H332.74 M388.36 2556.51 V2586.53 M382.16 2556.51 H394.56 M382.16 2586.53 H394.56 M450.18 2550.88 V2583.52 M443.98 2550.88 H456.38 M443.98 2583.52 H456.38 M512 2546.75 V2582.77 M505.8 2546.75 H518.2 M505.8 2582.77 H518.2 M573.82 2550.69 V2594.97 M567.62 2550.69 H580.02 M567.62 2594.97 H580.02 M635.64 2551.44 V2588.96 M629.44 2551.44 H641.84 M629.44 2588.96 H641.84 M697.46 2551.07 V2599.47 M691.26 2551.07 H703.66 M691.26 2599.47 H703.66 M759.28 2560.45 V2594.22 M753.08 2560.45 H765.48 M753.08 2594.22 H765.48 M821.1 2570.95 V2593.47 M814.9 2570.95 H827.3 M814.9 2593.47 H827.3 M882.92 2573.58 V2607.35 M876.72 2573.58 H889.12 M876.72 2607.35 H889.12 M944.74 2596.28 V2615.04 M938.54 2596.28 H950.94 M938.54 2615.04 H950.94 M1006.56 2588.78 V2622.54 M1000.36 2588.78 H1012.76 M1000.36 2622.54 H1012.76 M1068.38 2608.1 V2683.14 M1062.18 2608.1 H1074.58 M1062.18 2683.14 H1074.58" stroke="#C8C800" stroke-width="3" fill="none"/>
</g>
<polygon points="202.9,2696.98 209.4,2709.33 196.4,2709.33" fill="#C8C800"/>
<polygon points="264.72,2646.33 271.22,2658.68 258.22,2658.68" fill="#C8C800"/>
<polygon points="326.54,2590.23 333.04,2602.58 320.04,2602.58" fill="#C8C800"/>
<polygon points="388.36,2565.1 394.86,2577.45 381.86,2577.45" fill="#C8C800"/>
<polygon points="450.18,2560.78 456.68,2573.13 443.68,2573.13" fill="#C8C800"/>
<polygon points="512,2558.34 518.5,2570.69 505.5,2570.69" fill="#C8C800"/>
<polygon points="573.82,2566.41 580.32,2578.76 567.32,2578.76" fill="#C8C800"/>
<polygon points="635.64,2563.78 642.14,2576.13 629.14,2576.13" fill="#C8C800"/>
<polygon points="697.46,2568.85 703.96,2581.2 690.96,2581.2" fill="#C8C800"/>
<polygon points="759.28,2570.91 765.78,2583.26 752.78,2583.26" fill="#C8C800"/>
<polygon points="821.1,2575.79 827.6,2588.14 814.6,2588.14" fill="#C8C800"/>
<polygon points="882.92,2584.04 889.42,2596.39 876.42,2596.39" fill="#C8C800"/>
<polygon points="944.74,2599.24 951.24,2611.59 938.24,2611.59" fill="#C8C800"/>
<polygon points="1006.56,2599.24 1013.06,2611.59 1000.06,2611.59" fill="#C8C800"/>
<polygon points="1068.38,2639.2 1074.88,2651.55 1061.88,2651.55" fill="#C8C800"/>
<g clip-path="url(#clipC)">
<polyline points="202.9,2703.4 264.72,2654.25 326.54,2611.85 388.36,2588.59 450.18,2591.22 512,2585.02 573.82,2573.96 635.64,2584.27 697.46,2589.34 759.28,2590.46 821.1,2603.22 882.92,2607.91 944.74,2592.34 1006.56,2619.54 1068.38,2618.98" fill="none" stroke="#FF0000" stroke-width="6.5" stroke-linejoin="round"/>
<path d="M264.72 2626.48 V2682.01 M258.52 2626.48 H270.92 M258.52 2682.01 H270.92 M326.54 2594.97 V2628.74 M320.34 2594.97 H332.74 M320.34 2628.74 H332.74 M388.36 2581.08 V2596.09 M382.16 2581.08 H394.56 M382.16 2596.09 H394.56 M450.18 2571.52 V2610.91 M443.98 2571.52 H456.38 M443.98 2610.91 H456.38 M512 2562.89 V2607.16 M505.8 2562.89 H518.2 M505.8 2607.16 H518.2 M573.82 2564.58 V2583.34 M567.62 2564.58 H580.02 M567.62 2583.34 H580.02 M635.64 2570.2 V2598.34 M629.44 2570.2 H641.84 M629.44 2598.34 H641.84 M697.46 2570.58 V2608.1 M691.26 2570.58 H703.66 M691.26 2608.1 H703.66 M759.28 2571.7 V2609.22 M753.08 2571.7 H765.48 M753.08 2609.22 H765.48 M821.1 2582.59 V2623.86 M814.9 2582.59 H827.3 M814.9 2623.86 H827.3 M882.92 2589.15 V2626.67 M876.72 2589.15 H889.12 M876.72 2626.67 H889.12 M944.74 2582.96 V2601.72 M938.54 2582.96 H950.94 M938.54 2601.72 H950.94 M1006.56 2600.78 V2638.3 M1000.36 2600.78 H1012.76 M1000.36 2638.3 H1012.76 M1068.38 2607.72 V2630.24 M1062.18 2607.72 H1074.58 M1062.18 2630.24 H1074.58" stroke="#FF0000" stroke-width="3" fill="none"/>
</g>
<rect x="196.65" y="2697.15" width="12.5" height="12.5" fill="#FF0000"/>
<rect x="258.47" y="2648" width="12.5" height="12.5" fill="#FF0000"/>
<rect x="320.29" y="2605.6" width="12.5" height="12.5" fill="#FF0000"/>
<rect x="382.11" y="2582.34" width="12.5" height="12.5" fill="#FF0000"/>
<rect x="443.93" y="2584.97" width="12.5" height="12.5" fill="#FF0000"/>
<rect x="505.75" y="2578.77" width="12.5" height="12.5" fill="#FF0000"/>
<rect x="567.57" y="2567.71" width="12.5" height="12.5" fill="#FF0000"/>
<rect x="629.39" y="2578.02" width="12.5" height="12.5" fill="#FF0000"/>
<rect x="691.21" y="2583.09" width="12.5" height="12.5" fill="#FF0000"/>
<rect x="753.03" y="2584.21" width="12.5" height="12.5" fill="#FF0000"/>
<rect x="814.85" y="2596.97" width="12.5" height="12.5" fill="#FF0000"/>
<rect x="876.67" y="2601.66" width="12.5" height="12.5" fill="#FF0000"/>
<rect x="938.49" y="2586.09" width="12.5" height="12.5" fill="#FF0000"/>
<rect x="1000.31" y="2613.29" width="12.5" height="12.5" fill="#FF0000"/>
<rect x="1062.13" y="2612.73" width="12.5" height="12.5" fill="#FF0000"/>
<g clip-path="url(#clipC)">
<polyline points="202.9,2703.4 264.72,2648.06 326.54,2638.68 388.36,2612.04 450.18,2609.04 512,2603.97 573.82,2607.72 635.64,2602.47 697.46,2610.54 759.28,2613.35 821.1,2619.54 882.92,2618.42 944.74,2617.29 1006.56,2631.17 1068.38,2630.8" fill="none" stroke="#000000" stroke-width="6.5" stroke-linejoin="round"/>
<path d="M264.72 2628.92 V2667.19 M258.52 2628.92 H270.92 M258.52 2667.19 H270.92 M326.54 2616.73 V2660.63 M320.34 2616.73 H332.74 M320.34 2660.63 H332.74 M388.36 2594.03 V2630.05 M382.16 2594.03 H394.56 M382.16 2630.05 H394.56 M450.18 2583.52 V2634.55 M443.98 2583.52 H456.38 M443.98 2634.55 H456.38 M512 2581.46 V2626.48 M505.8 2581.46 H518.2 M505.8 2626.48 H518.2 M573.82 2577.71 V2637.74 M567.62 2577.71 H580.02 M567.62 2637.74 H580.02 M635.64 2583.71 V2621.23 M629.44 2583.71 H641.84 M629.44 2621.23 H641.84 M697.46 2586.71 V2634.36 M691.26 2586.71 H703.66 M691.26 2634.36 H703.66 M759.28 2587.65 V2639.05 M753.08 2587.65 H765.48 M753.08 2639.05 H765.48 M821.1 2591.03 V2648.06 M814.9 2591.03 H827.3 M814.9 2648.06 H827.3 M882.92 2595.91 V2640.93 M876.72 2595.91 H889.12 M876.72 2640.93 H889.12 M944.74 2599.84 V2634.74 M938.54 2599.84 H950.94 M938.54 2634.74 H950.94 M1006.56 2602.66 V2659.69 M1000.36 2602.66 H1012.76 M1000.36 2659.69 H1012.76 M1068.38 2602.28 V2659.31 M1062.18 2602.28 H1074.58 M1062.18 2659.31 H1074.58" stroke="#000000" stroke-width="3" fill="none"/>
</g>
<circle cx="202.9" cy="2703.4" r="6" fill="#000000"/>
<circle cx="264.72" cy="2648.06" r="6" fill="#000000"/>
<circle cx="326.54" cy="2638.68" r="6" fill="#000000"/>
<circle cx="388.36" cy="2612.04" r="6" fill="#000000"/>
<circle cx="450.18" cy="2609.04" r="6" fill="#000000"/>
<circle cx="512" cy="2603.97" r="6" fill="#000000"/>
<circle cx="573.82" cy="2607.72" r="6" fill="#000000"/>
<circle cx="635.64" cy="2602.47" r="6" fill="#000000"/>
<circle cx="697.46" cy="2610.54" r="6" fill="#000000"/>
<circle cx="759.28" cy="2613.35" r="6" fill="#000000"/>
<circle cx="821.1" cy="2619.54" r="6" fill="#000000"/>
<circle cx="882.92" cy="2618.42" r="6" fill="#000000"/>
<circle cx="944.74" cy="2617.29" r="6" fill="#000000"/>
<circle cx="1006.56" cy="2631.17" r="6" fill="#000000"/>
<circle cx="1068.38" cy="2630.8" r="6" fill="#000000"/>
<text x="202.9" y="2823.3" font-family="'Liberation Serif', 'Times New Roman', serif" font-size="52.5" font-weight="bold" text-anchor="middle">0</text>
<text x="326.54" y="2823.3" font-family="'Liberation Serif', 'Times New Roman', serif" font-size="52.5" font-weight="bold" text-anchor="middle">20</text>
<text x="450.18" y="2823.3" font-family="'Liberation Serif', 'Times New Roman', serif" font-size="52.5" font-weight="bold" text-anchor="middle">40</text>
<text x="573.82" y="2823.3" font-family="'Liberation Serif', 'Times New Roman', serif" font-size="52.5" font-weight="bold" text-anchor="middle">60</text>
<text x="697.46" y="2823.3" font-family="'Liberation Serif', 'Times New Roman', serif" font-size="52.5" font-weight="bold" text-anchor="middle">80</text>
<text x="821.1" y="2823.3" font-family="'Liberation Serif', 'Times New Roman', serif" font-size="52.5" font-weight="bold" text-anchor="middle">100</text>
<text x="944.74" y="2823.3" font-family="'Liberation Serif', 'Times New Roman', serif" font-size="52.5" font-weight="bold" text-anchor="middle">120</text>
<text x="1068.38" y="2823.3" font-family="'Liberation Serif', 'Times New Roman', serif" font-size="52.5" font-weight="bold" text-anchor="middle">140</text>
<text x="170.5" y="2723" font-family="'Liberation Serif', 'Times New Roman', serif" font-size="52.5" font-weight="bold" text-anchor="end">0</text>
<text x="170.5" y="2629.2" font-family="'Liberation Serif', 'Times New Roman', serif" font-size="52.5" font-weight="bold" text-anchor="end">5</text>
<text x="170.5" y="2535.4" font-family="'Liberation Serif', 'Times New Roman', serif" font-size="52.5" font-weight="bold" text-anchor="end">10</text>
<text x="170.5" y="2441.6" font-family="'Liberation Serif', 'Times New Roman', serif" font-size="52.5" font-weight="bold" text-anchor="end">15</text>
<text x="170.5" y="2347.8" font-family="'Liberation Serif', 'Times New Roman', serif" font-size="52.5" font-weight="bold" text-anchor="end">20</text>
<text x="170.5" y="2254" font-family="'Liberation Serif', 'Times New Roman', serif" font-size="52.5" font-weight="bold" text-anchor="end">25</text>
<text x="170.5" y="2160.2" font-family="'Liberation Serif', 'Times New Roman', serif" font-size="52.5" font-weight="bold" text-anchor="end">30</text>
<text x="666.6" y="2897.7" font-family="'Liberation Serif', 'Times New Roman', serif" font-size="49.7" font-weight="bold" text-anchor="middle">Time (min)</text>
<text transform="translate(78.3 2407) rotate(-90)" font-family="'Liberation Sans', Arial, sans-serif" font-size="50.8" font-weight="bold" text-anchor="middle">(A<tspan font-size="37.59" dy="11.18">405</tspan><tspan dy="-11.18">&#183;t</tspan><tspan font-size="37.59" dy="-22.35">&#8722;1</tspan><tspan dy="22.35">)/10</tspan><tspan font-size="37.59" dy="-22.35">&#8722;3</tspan><tspan dy="22.35">&#183;min</tspan><tspan font-size="37.59" dy="-22.35">&#8722;1</tspan></text>
<path d="M1185 2114.7 H1250.5" stroke="#000000" stroke-width="6"/>
<circle cx="1217.7" cy="2114.7" r="6" fill="#000000"/>
<text transform="translate(1288.5 2132.7) scale(0.935 1)" font-family="'Liberation Serif', 'Times New Roman', serif" font-size="53" font-weight="bold">0 mM</text>
<path d="M1185 2198.6 H1250.5" stroke="#FF0000" stroke-width="6"/>
<rect x="1211.45" y="2192.35" width="12.5" height="12.5" fill="#FF0000"/>
<text transform="translate(1288.5 2216.6) scale(0.935 1)" font-family="'Liberation Serif', 'Times New Roman', serif" font-size="53" font-weight="bold">0.092 mM</text>
<path d="M1185 2282.5 H1250.5" stroke="#C8C800" stroke-width="6"/>
<polygon points="1217.7,2276.08 1224.2,2288.43 1211.2,2288.43" fill="#C8C800"/>
<text transform="translate(1288.5 2300.5) scale(0.935 1)" font-family="'Liberation Serif', 'Times New Roman', serif" font-size="53" font-weight="bold">0.184 mM</text>
<path d="M1185 2366.4 H1250.5" stroke="#00C800" stroke-width="6"/>
<polygon points="1217.7,2372.82 1224.2,2360.47 1211.2,2360.47" fill="#00C800"/>
<text transform="translate(1288.5 2384.4) scale(0.935 1)" font-family="'Liberation Serif', 'Times New Roman', serif" font-size="53" font-weight="bold">0.368 mM</text>
<path d="M1185 2450.3 H1250.5" stroke="#0000FF" stroke-width="6"/>
<circle cx="1217.7" cy="2450.3" r="8.5" fill="#0000FF"/>
<text transform="translate(1288.5 2468.3) scale(0.935 1)" font-family="'Liberation Serif', 'Times New Roman', serif" font-size="53" font-weight="bold">0.552 mM</text>
<path d="M1185 2534.2 H1250.5" stroke="#CC00FF" stroke-width="6"/>
<circle cx="1217.7" cy="2534.2" r="9" fill="#CC00FF"/>
<text transform="translate(1288.5 2552.2) scale(0.935 1)" font-family="'Liberation Serif', 'Times New Roman', serif" font-size="53" font-weight="bold">0.736 mM</text>
<path d="M1185 2618.1 H1250.5" stroke="#F2006A" stroke-width="6"/>
<rect x="1208.2" y="2608.6" width="19" height="19" fill="#F2006A"/>
<text transform="translate(1288.5 2636.1) scale(0.935 1)" font-family="'Liberation Serif', 'Times New Roman', serif" font-size="53" font-weight="bold">0.92 mM</text>
<path d="M1185 2702 H1250.5" stroke="#00F0B4" stroke-width="6"/>
<polygon points="1217.7,2692.12 1227.7,2711.12 1207.7,2711.12" fill="#00F0B4"/>
<text transform="translate(1288.5 2720) scale(0.935 1)" font-family="'Liberation Serif', 'Times New Roman', serif" font-size="53" font-weight="bold">1.15 mM</text>
<path d="M1185 2785.9 H1250.5" stroke="#008000" stroke-width="6"/>
<polygon points="1217.7,2795.78 1227.7,2776.78 1207.7,2776.78" fill="#008000"/>
<text transform="translate(1288.5 2803.9) scale(0.935 1)" font-family="'Liberation Serif', 'Times New Roman', serif" font-size="53" font-weight="bold">1.38 mM</text>
<text x="760.6" y="3017" font-family="'Liberation Serif', 'Times New Roman', serif" font-size="62.5" text-anchor="middle">(<tspan font-weight="bold">C</tspan>)</text>
</svg>
</body></html>
